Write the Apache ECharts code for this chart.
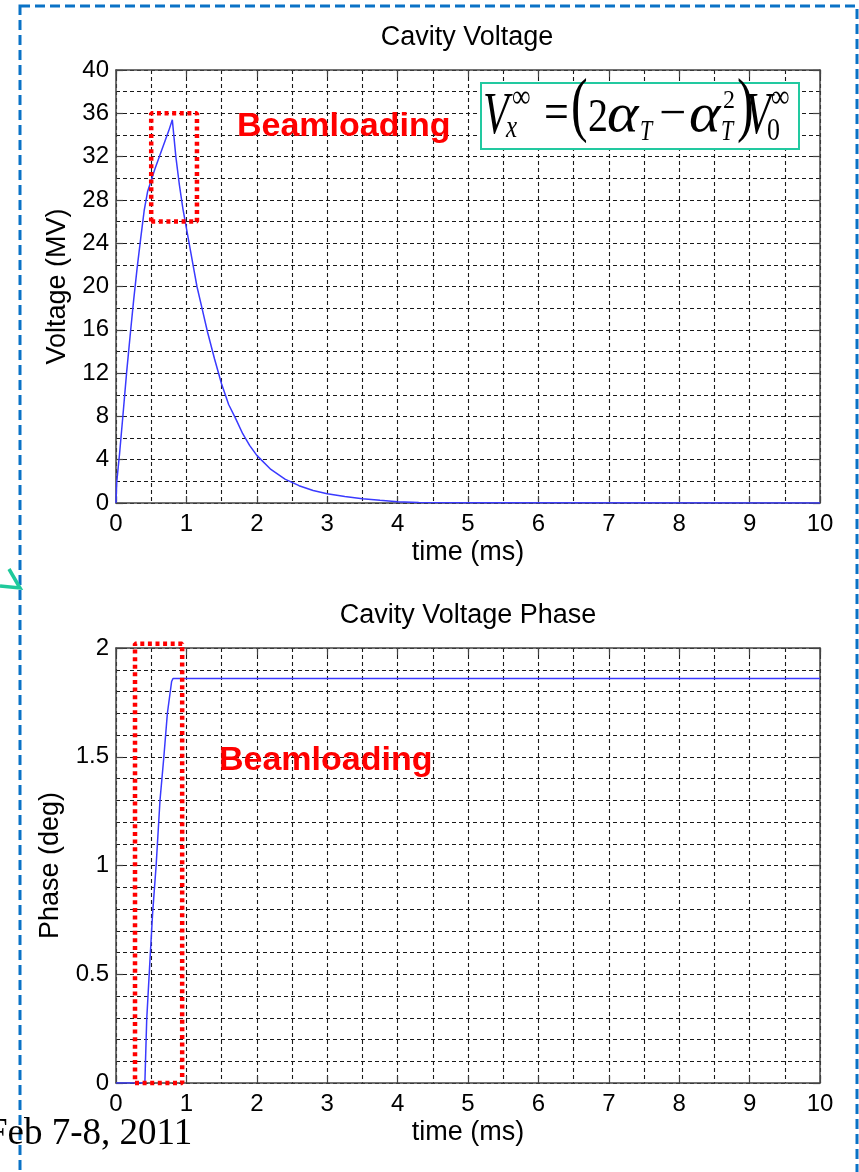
<!DOCTYPE html>
<html>
<head>
<meta charset="utf-8">
<title>Cavity Voltage</title>
<script src="https://cdn.jsdelivr.net/npm/echarts@6/dist/echarts.min.js"></script>
<style>
  html, body { margin: 0; padding: 0; background: #ffffff; }
  #chart { width: 859px; height: 1172px; }
</style>
</head>
<body>
<div id="chart"></div>
<script>
// Cavity voltage amplitude (MV) against time (ms)
const timeV = [0, 0.01, 0.05, 0.1, 0.15, 0.2, 0.25, 0.3, 0.35, 0.4, 0.45, 0.5, 0.55, 0.6, 0.65, 0.7, 0.75, 0.8,
  0.85, 0.9, 0.95, 1.0, 1.05, 1.1, 1.15, 1.2, 1.3, 1.4, 1.5, 1.6, 1.7, 1.8, 1.9, 2.0, 2.2, 2.4, 2.6, 2.8, 3.0,
  3.25, 3.5, 3.75, 4.0, 4.3, 5.0, 10.0];
const voltage = [0, 1.9, 4.5, 8.2, 12.0, 15.4, 18.7, 21.7, 24.4, 27.0, 28.8, 29.8, 30.8, 31.7, 32.6, 33.5, 34.4, 35.4,
  32.0, 29.4, 27.2, 25.4, 23.6, 21.8, 20.0, 18.6, 15.8, 13.3, 11.0, 9.1, 7.8, 6.4, 5.3, 4.4, 3.1, 2.2, 1.6, 1.15, 0.85,
  0.6, 0.4, 0.25, 0.12, 0.04, 0.02, 0.01];

// Cavity voltage phase (deg) against time (ms)
const timePh = [0, 0.41, 0.436, 0.48, 0.52, 0.57, 0.625, 0.68, 0.73, 0.79, 0.81, 10.0];
const phase = [0, 0, 0.29, 0.55, 0.78, 1.0, 1.3, 1.5, 1.7, 1.846, 1.86, 1.86];

// Beam-loading highlight boxes (data coordinates)
const boxTopX = [0.5, 1.15];
const boxTopY = [26, 36];
const boxBotX = [0.27, 0.94];
const boxBotY = [0, 2.02];

const timeTicks = [0, 10, 1];      // min, max, step
const voltTicks = [0, 40, 4];
const phaseTicks = [0, 2, 0.5];

const SANS = '"Liberation Sans", Arial, Helvetica, sans-serif';
const SERIF = '"Liberation Serif", "Times New Roman", serif';

function pairs(xs, ys) { return xs.map((x, i) => [x, ys[i]]); }
function boxPath(bx, by) {
  return [[bx[0], by[0]], [bx[1], by[0]], [bx[1], by[1]], [bx[0], by[1]], [bx[0], by[0]]];
}

const gridLine = { show: true, lineStyle: { color: '#1a1a1a', type: [4, 3], width: 1.1 } };
const axisLine = { show: true, onZero: false, lineStyle: { color: '#444', width: 1.5 } };
const tickIn = { show: true, inside: true, length: 7, lineStyle: { color: '#444', width: 1.2 } };
const labelStyle = { color: '#000', fontSize: 24, fontFamily: SANS };
const nameStyle = { color: '#000', fontSize: 27, fontFamily: SANS };

function mainX(gi) {
  return {
    type: 'value', gridIndex: gi, min: timeTicks[0], max: timeTicks[1], interval: timeTicks[2],
    position: 'bottom', axisLine, axisTick: tickIn,
    axisLabel: Object.assign({ margin: 9 }, labelStyle),
    splitLine: gridLine, minorTick: { show: false, splitNumber: 2 }, minorSplitLine: gridLine,
    name: 'time (ms)', nameLocation: 'middle', nameGap: 36, nameTextStyle: nameStyle
  };
}
function boxX(gi) {
  return {
    type: 'value', gridIndex: gi, min: timeTicks[0], max: timeTicks[1], interval: timeTicks[2],
    position: 'top', axisLine, axisTick: tickIn, axisLabel: { show: false }, splitLine: { show: false }
  };
}
function boxY(gi, t) {
  return {
    type: 'value', gridIndex: gi, min: t[0], max: t[1], interval: t[2],
    position: 'right', axisLine, axisTick: tickIn, axisLabel: { show: false }, splitLine: { show: false }
  };
}

const chart = echarts.init(document.getElementById('chart'), null, { renderer: 'canvas' });

// Equation glyphs: [text, left x, anchor y, font size, italic, vertical stretch]
const eqGlyphs = [
  ['V', 483, 117, 42, true, 1.42],
  ['\u221E', 512, 98.6, 26, false, 1.25],
  ['x', 506, 128.9, 25, true, 1.3],
  ['=', 544, 115.2, 44, false, 1.2],
  ['(', 571, 109.3, 50, false, 1.42],
  ['2', 588, 119, 40, false, 1.18],
  ['\u03B1', 607, 116.4, 60, true, 0.92],
  ['T', 640, 132.5, 22, true, 1.3],
  ['\u2212', 659, 115.7, 48, false, 1],
  ['\u03B1', 689, 116.4, 60, true, 0.92],
  ['2', 723, 101.5, 24, false, 1.05],
  ['T', 721, 132.5, 22, true, 1.3],
  [')', 737, 109.3, 50, false, 1.42],
  ['V', 745, 117, 42, true, 1.42],
  ['\u221E', 771, 98.6, 26, false, 1.25],
  ['0', 767, 131, 26, false, 1.25]
];

const option = {
  backgroundColor: '#ffffff',
  animation: false,
  grid: [
    { left: 116, top: 70, width: 704, height: 433 },
    { left: 116, top: 648, width: 704, height: 435 }
  ],
  xAxis: [mainX(0), boxX(0), mainX(1), boxX(1)],
  yAxis: [
    {
      type: 'value', gridIndex: 0, min: voltTicks[0], max: voltTicks[1], interval: voltTicks[2],
      position: 'left', axisLine, axisTick: tickIn,
      axisLabel: Object.assign({ margin: 7 }, labelStyle),
      splitLine: gridLine, minorTick: { show: false, splitNumber: 2 }, minorSplitLine: gridLine,
      name: 'Voltage (MV)', nameLocation: 'middle', nameGap: 44, nameRotate: 90, nameTextStyle: nameStyle
    },
    boxY(0, voltTicks),
    {
      type: 'value', gridIndex: 1, min: phaseTicks[0], max: phaseTicks[1], interval: phaseTicks[2],
      position: 'left', axisLine, axisTick: tickIn,
      axisLabel: Object.assign({ margin: 7 }, labelStyle),
      splitLine: gridLine, minorTick: { show: false, splitNumber: 5 }, minorSplitLine: gridLine,
      name: 'Phase (deg)', nameLocation: 'middle', nameGap: 52, nameRotate: 90, nameTextStyle: nameStyle
    },
    boxY(1, phaseTicks)
  ],
  series: [
    {
      type: 'line', xAxisIndex: 0, yAxisIndex: 0, data: pairs(timeV, voltage),
      showSymbol: false, symbol: 'none', lineStyle: { color: '#3a3aff', width: 1.5 }, z: 3
    },
    {
      type: 'line', xAxisIndex: 2, yAxisIndex: 2, data: pairs(timePh, phase),
      showSymbol: false, symbol: 'none', lineStyle: { color: '#3a3aff', width: 1.5 }, z: 3
    },
    {
      type: 'line', xAxisIndex: 0, yAxisIndex: 0, data: boxPath(boxTopX, boxTopY), clip: false,
      showSymbol: false, symbol: 'none', silent: true, z: 5,
      lineStyle: { color: '#ff0000', width: 4.5, type: [4, 3.6], cap: 'butt' }
    },
    {
      type: 'line', xAxisIndex: 2, yAxisIndex: 2, data: boxPath(boxBotX, boxBotY), clip: false,
      showSymbol: false, symbol: 'none', silent: true, z: 5,
      lineStyle: { color: '#ff0000', width: 4.5, type: [4, 3.6], cap: 'butt' }
    }
  ],
  graphic: [
    // dashed frame
    {
      type: 'rect', shape: { x: 20, y: 6, width: 837, height: 1200 }, z: 1, silent: true,
      style: { fill: null, stroke: '#0a72c6', lineWidth: 3, lineDash: [10, 5] }
    },
    // connector arrow head on the frame's left edge
    {
      type: 'polyline', shape: { points: [[9, 569], [20, 588], [0, 586]] }, z: 2,
      style: { fill: null, stroke: '#1fc99b', lineWidth: 3.5 }
    },
    {
      type: 'text', x: 467, y: 38, z: 10,
      style: { text: 'Cavity Voltage', font: '27px ' + SANS, fill: '#000', align: 'center', verticalAlign: 'middle' }
    },
    {
      type: 'text', x: 468, y: 616, z: 10,
      style: { text: 'Cavity Voltage Phase', font: '27px ' + SANS, fill: '#000', align: 'center', verticalAlign: 'middle' }
    },
    {
      type: 'text', x: 237, y: 127, z: 10,
      style: { text: 'Beamloading', font: 'bold 34px ' + SANS, fill: '#ff0000', align: 'left', verticalAlign: 'middle' }
    },
    {
      type: 'text', x: 219, y: 761, z: 10,
      style: { text: 'Beamloading', font: 'bold 34px ' + SANS, fill: '#ff0000', align: 'left', verticalAlign: 'middle' }
    },
    {
      type: 'text', x: -13, y: 1134, z: 10,
      style: { text: 'Feb 7-8, 2011', font: '37px ' + SERIF, fill: '#000', align: 'left', verticalAlign: 'middle' }
    },
    // equation box
    {
      type: 'rect', shape: { x: 481, y: 83, width: 318, height: 66 }, z: 8,
      style: { fill: '#ffffff', stroke: '#22c9a0', lineWidth: 2 }
    }
  ].concat(eqGlyphs.map(g => ({
    type: 'text', x: g[1], y: g[2], scaleY: g[5], z: 9,
    style: {
      text: g[0], fill: '#000', align: 'left', verticalAlign: 'middle',
      font: (g[4] ? 'italic ' : '') + g[3] + 'px ' + SERIF
    }
  })))
};

chart.setOption(option);
</script>
</body>
</html>
